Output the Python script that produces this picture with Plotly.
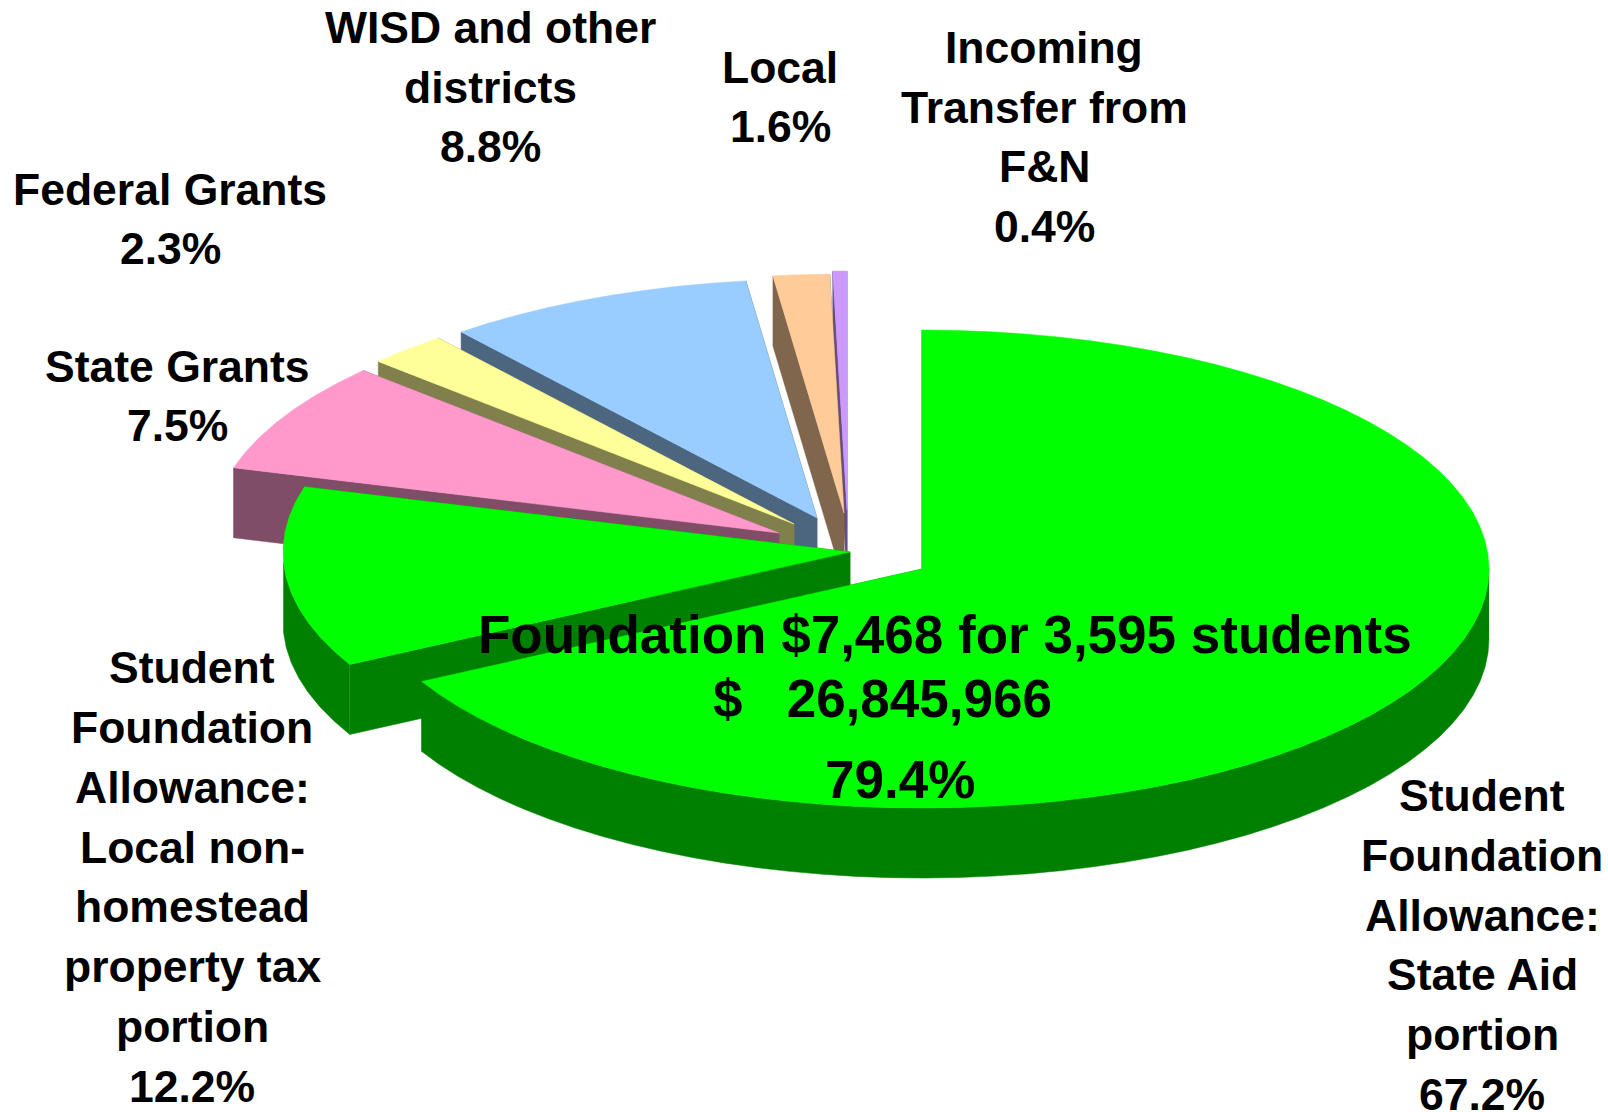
import math
import plotly.graph_objects as go

labels = ["Student\nFoundation\nAllowance:\nState Aid\nportion\n67.2%",
          "Student\nFoundation\nAllowance:\nLocal non-\nhomestead\nproperty tax\nportion\n12.2%",
          "State Grants\n7.5%", "Federal Grants\n2.3%",
          "WISD and other\ndistricts\n8.8%", "Local\n1.6%",
          "Incoming\nTransfer from\nF&N\n0.4%"]
values = [67.2, 12.2, 7.5, 2.3, 8.8, 1.6, 0.4]
top_colors = ["#00FF00", "#00FF00", "#FF99CC", "#FFFF99", "#99CCFF", "#FFCC99", "#CC99FF"]
side_colors = ["#008000", "#008000", "#804D66", "#80804D", "#4D6680", "#80664D", "#664D80"]
# apex of every exploded slice, in page pixels
apex_x = [922, 850, 779, 794, 817, 844, 847]
apex_y = [569, 552, 533, 524, 518, 513, 510]
label_x = [1482, 192, 177, 170, 490, 780, 1044]
label_y = [945, 877, 396, 219, 87, 97, 137]
LINE_STEP = 59.8
RX, RY, DEPTH = 567, 239, 70
center_lines = ["Foundation $7,468 for 3,595 students", "$   26,845,966", "79.4%"]
center_x = [945, 882, 900]
center_y = [634, 698, 779]
FONT = "Liberation Sans"

fig = go.Figure()


def poly(xs, ys, col):
    fig.add_trace(go.Scatter(x=xs, y=ys, mode="lines", fill="toself", fillcolor=col,
                             line=dict(color=col, width=0.5), hoverinfo="skip", showlegend=False))


starts = []
a = 0.0
for v in values:
    starts.append(a)
    a += v / 100 * 2 * math.pi
ends = starts[1:] + [2 * math.pi]  # rounded shares leave 0.2%; the last slice closes the circle

for i in [6, 5, 4, 3, 2, 1, 0]:
    a0, a1 = starts[i], ends[i]
    cx, cy = apex_x[i], apex_y[i]
    n = max(3, int((a1 - a0) / 0.06))
    arc = [a0 + (a1 - a0) * k / n for k in range(n + 1)]
    ax = [cx + RX * math.sin(t) for t in arc]
    ay = [cy - RY * math.cos(t) for t in arc]
    for t in (a0, a1):
        ex, ey = cx + RX * math.sin(t), cy - RY * math.cos(t)
        poly([cx, ex, ex, cx, cx], [cy, ey, ey + DEPTH, cy + DEPTH, cy], side_colors[i])
    wall = [t for t in arc if math.cos(t) < 0.02]
    if wall:
        wx = [cx + RX * math.sin(t) for t in wall]
        wy = [cy - RY * math.cos(t) for t in wall]
        poly(wx + wx[::-1], wy + [y + DEPTH for y in wy[::-1]], side_colors[i])
    poly([cx] + ax + [cx], [cy] + ay + [cy], top_colors[i])

for t, x, y in zip(labels, label_x, label_y):
    rows = t.split("\n")
    for k, row in enumerate(rows):
        fig.add_annotation(x=x, y=y + (k - (len(rows) - 1) / 2) * LINE_STEP,
                           text="<b>" + row + "</b>", showarrow=False,
                           font=dict(family=FONT, size=44.5, color="black"), align="center")
for t, x, y in zip(center_lines, center_x, center_y):
    fig.add_annotation(x=x, y=y, text="<b>" + t + "</b>", showarrow=False,
                       font=dict(family=FONT, size=53, color="black"), align="center")

fig.update_xaxes(range=[0, 1608], visible=False, fixedrange=True)
fig.update_yaxes(range=[1112, 0], visible=False, fixedrange=True)
fig.update_layout(width=1608, height=1112, margin=dict(l=0, r=0, t=0, b=0),
                  paper_bgcolor="white", plot_bgcolor="white", showlegend=False)
fig.write_html("out.html", post_script="document.body.style.margin='0';",
               config={"displayModeBar": False})
